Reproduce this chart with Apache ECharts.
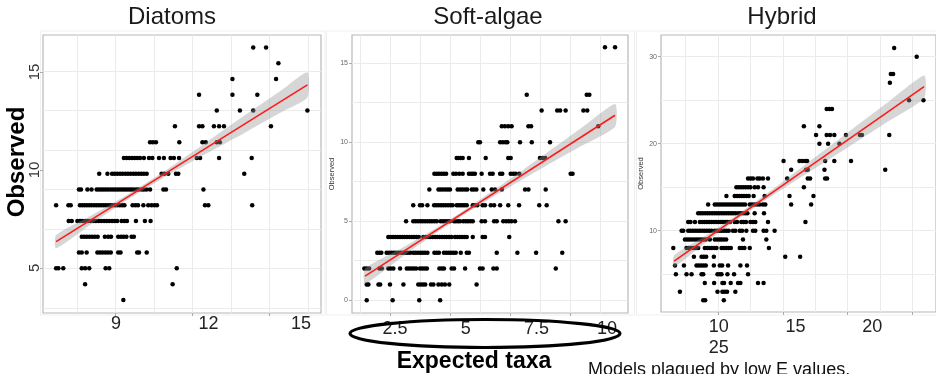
<!DOCTYPE html>
<html>
<head>
<meta charset="utf-8">
<script src="https://cdn.jsdelivr.net/npm/echarts@6/dist/echarts.min.js"></script>
<style>
  html, body { margin: 0; padding: 0; background: #fff; }
  #chart { width: 936px; height: 374px; }
</style>
</head>
<body>
<div id="chart"></div>
<script>
// Observed vs expected taxa for three assemblage models.
// Each row: [observed count, [expected values of the sites at that count]]

const diatomRows = [
  [19, [14.36, 14.86]],
  [18, [15.34]],
  [17, [13.55, 15.25]],
  [16, [12.25, 13.55, 14.52]],
  [15, [12.94, 13.84, 14.36, 16.47]],
  [14, [11.31, 12.25, 12.38, 12.83, 13.03, 13.22, 15.05]],
  [13, [10.34, 10.45, 10.57, 11.48, 12.38, 12.51, 12.94, 13.06]],
  [12, [9.32, 9.43, 9.53, 9.64, 9.74, 9.84, 9.95, 10.10, 10.30, 10.43, 10.69, 10.88, 11.14, 11.27, 11.47, 12.16, 12.29, 13.03, 14.30]],
  [11, [8.36, 8.68, 8.86, 8.96, 9.06, 9.17, 9.27, 9.38, 9.48, 9.58, 9.69, 9.79, 9.90, 10.0, 10.10, 10.21, 10.79, 10.90, 11.05, 11.35, 11.44, 14.01]],
  [10, [7.57, 7.65, 7.90, 8.06, 8.26, 8.35, 8.44, 8.53, 8.62, 8.71, 8.81, 8.90, 8.99, 9.08, 9.17, 9.26, 9.35, 9.44, 9.53, 9.62, 9.71, 9.81, 9.90, 10.01, 10.1, 10.2, 10.34, 10.86, 10.96, 12.42]],
  [9, [6.68, 7.16, 7.25, 7.61, 7.70, 7.79, 7.88, 7.97, 8.06, 8.16, 8.25, 8.34, 8.43, 8.52, 8.61, 8.70, 8.79, 8.88, 8.97, 9.06, 9.16, 9.25, 9.34, 9.66, 9.77, 9.87, 10.08, 10.27, 10.40, 10.51, 10.61, 12.48, 12.61, 14.32]],
  [8, [7.17, 7.29, 7.51, 7.61, 7.71, 7.82, 7.92, 8.03, 8.13, 8.23, 8.34, 8.44, 8.55, 8.65, 8.75, 8.86, 8.96, 9.06, 9.23, 9.34, 9.44, 9.79, 10.14, 10.36]],
  [7, [7.68, 7.78, 7.88, 7.99, 8.09, 8.19, 8.30, 8.58, 8.71, 8.82, 9.10, 9.21, 9.31, 9.42, 9.62, 9.71]],
  [6, [7.57, 7.68, 7.87, 8.29, 8.39, 8.49, 8.60, 8.70, 8.81, 9.10, 9.19, 9.84, 9.91, 10.21]],
  [5, [6.68, 6.77, 6.96, 7.68, 7.81, 7.97, 8.61, 8.75, 11.38]],
  [4, [7.81, 11.22]],
  [3, [9.30]]
];

const softRows = [
  [16, [11.43, 11.85]],
  [13, [8.17, 10.67, 10.78]],
  [12, [8.79, 9.44, 9.56, 9.79, 10.53, 10.69]],
  [11, [7.13, 7.26, 7.40, 7.54, 8.24, 8.35, 11.15]],
  [10, [6.15, 6.22, 7.06, 7.17, 7.28, 7.36, 7.89, 8.38, 9.14]],
  [9, [5.25, 5.33, 5.42, 5.50, 5.76, 6.46, 7.40, 7.50, 8.72, 8.83, 8.94]],
  [8, [4.32, 4.42, 4.51, 4.61, 4.71, 4.81, 5.11, 5.22, 5.36, 5.50, 5.76, 5.85, 5.93, 6.01, 6.29, 6.64, 6.75, 7.06, 7.15, 7.50, 7.61, 7.71, 7.86, 10.0, 10.08]],
  [7, [4.11, 4.49, 4.58, 4.68, 4.78, 4.88, 4.97, 5.29, 5.39, 5.49, 5.60, 5.69, 5.88, 5.97, 6.07, 6.36, 6.71, 6.85, 7.13, 8.10, 8.24, 8.96]],
  [6, [3.44, 3.72, 3.81, 4.03, 4.31, 4.40, 4.50, 4.60, 4.69, 4.79, 4.89, 4.99, 5.08, 5.25, 5.33, 5.42, 5.50, 5.58, 5.67, 5.92, 6.01, 6.11, 6.33, 6.43, 6.67, 6.81, 7.06, 7.40, 7.85, 8.69, 9.0]],
  [5, [3.14, 3.44, 3.54, 3.64, 3.74, 3.83, 3.93, 4.03, 4.13, 4.22, 4.32, 4.42, 4.58, 4.68, 4.78, 4.88, 4.97, 5.14, 5.22, 5.31, 5.39, 5.53, 5.63, 5.72, 5.82, 5.92, 6.29, 6.43, 6.81, 6.92, 7.19, 7.31, 7.42, 7.53, 7.68, 9.49, 9.79]],
  [4, [2.40, 2.50, 2.60, 2.69, 2.79, 2.89, 2.99, 3.08, 3.18, 3.28, 3.38, 3.47, 3.57, 3.67, 3.86, 3.96, 4.06, 4.15, 4.25, 4.35, 4.44, 4.54, 4.64, 4.74, 4.83, 4.93, 5.03, 5.18, 5.28, 5.38, 5.47, 5.57, 5.67, 5.92, 6.33, 6.43, 7.44]],
  [3, [1.94, 2.03, 2.11, 2.33, 2.43, 2.53, 2.63, 2.72, 2.82, 2.92, 3.01, 3.11, 3.21, 3.31, 3.44, 3.54, 3.64, 3.74, 3.83, 3.93, 4.03, 4.32, 4.42, 4.51, 4.72, 4.82, 4.92, 5.01, 5.11, 5.21, 5.42, 5.67, 5.76, 6.92, 7.78, 8.56, 9.65]],
  [2, [1.40, 1.50, 1.60, 2.03, 2.13, 2.40, 2.50, 2.61, 2.89, 3.17, 3.26, 3.36, 3.46, 3.56, 3.72, 3.82, 3.92, 4.01, 4.53, 4.63, 4.72, 5.04, 5.14, 5.60, 6.22, 6.33, 6.78, 6.92, 9.38]],
  [1, [1.50, 1.57, 1.99, 2.06, 2.47, 3.03, 3.65, 3.75, 3.85, 3.94, 4.18, 4.28, 4.49, 4.63, 4.76, 4.94, 6.08]],
  [0, [1.50, 2.58, 3.69, 4.56]]
];

const hybridRows = [
  [31, [23.59]],
  [30, [25.33]],
  [28, [23.33, 23.51]],
  [27, [23.26]],
  [25, [24.74, 25.85]],
  [24, [18.38, 18.59, 18.79]],
  [22, [16.62, 17.82]],
  [21, [17.56, 18.38, 18.64, 18.97, 19.87, 20.95, 21.10, 23.21]],
  [20, [17.82, 18.49, 19.36]],
  [18, [15.05, 16.28, 16.49, 16.72, 16.87, 18.26, 18.97, 20.26]],
  [17, [15.64, 16.79, 16.92, 18.21, 22.90]],
  [16, [12.31, 12.51, 12.69, 13.03, 13.21, 13.46, 13.85, 15.33, 16.92, 17.10, 18.26, 18.41]],
  [15, [11.41, 11.59, 11.77, 11.95, 12.13, 12.31, 12.49, 12.82, 13.08, 13.51, 16.62]],
  [14, [10.64, 11.28, 11.46, 11.64, 11.82, 12.0, 12.18, 12.36, 12.74, 13.59, 15.51, 17.36]],
  [13, [9.23, 9.74, 9.92, 10.10, 10.28, 10.46, 10.64, 10.82, 11.0, 11.18, 11.36, 11.54, 11.72, 11.90, 12.08, 12.44, 12.62, 12.82, 13.0, 13.21, 13.46, 13.64, 15.64, 17.18]],
  [12, [8.46, 8.64, 8.82, 9.0, 9.18, 9.36, 9.54, 9.72, 9.90, 10.08, 10.26, 10.44, 10.62, 10.80, 10.98, 11.15, 11.33, 11.54, 11.72, 11.90, 12.08, 12.26, 12.82, 13.54]],
  [11, [7.69, 7.87, 8.21, 8.59, 8.77, 8.95, 9.13, 9.31, 9.49, 9.67, 9.85, 10.03, 10.21, 10.38, 10.56, 10.74, 10.92, 11.28, 11.46, 11.79, 11.97, 12.15, 12.49, 12.69, 12.87, 13.85, 16.74]],
  [10, [7.18, 7.31, 7.69, 7.87, 8.05, 8.23, 8.41, 8.59, 8.77, 8.95, 9.13, 9.31, 9.49, 9.74, 9.92, 10.10, 10.28, 10.46, 10.64, 10.82, 11.15, 11.33, 11.67, 11.85, 12.18, 12.69, 12.87, 13.51, 13.72, 14.36]],
  [9, [7.44, 7.62, 7.79, 7.97, 8.15, 8.33, 8.51, 8.69, 8.87, 9.05, 9.36, 9.74, 9.92, 10.10, 10.26, 10.44, 10.62, 11.92, 13.72]],
  [8, [6.54, 7.56, 7.74, 7.92, 8.10, 8.28, 8.46, 8.97, 9.15, 9.33, 9.51, 9.69, 9.87, 10.26, 10.44, 10.62, 10.80, 10.98, 11.67, 11.85, 12.03, 12.44, 13.92]],
  [7, [8.13, 8.72, 8.90, 9.08, 9.67, 15.18, 16.33]],
  [6, [6.67, 7.36, 8.33, 8.51, 8.69, 8.87, 9.05, 9.67, 10.13, 10.31, 10.77, 11.72, 12.23]],
  [5, [6.74, 7.56, 7.95, 8.72, 8.85, 9.95, 10.13, 10.26, 10.72, 11.23, 12.31]],
  [4, [8.97, 9.69, 10.33, 10.46, 10.97, 11.54, 11.72, 13.08, 13.51]],
  [3, [7.05, 9.95, 10.33, 10.51, 10.69, 11.33]],
  [2, [8.85, 9.00, 10.44]]
];

// linear fit ends and confidence band
const diatomFitX = [6.68, 16.47];
const diatomFitY = [6.69, 16.63];
const diatomBandX = [6.68, 8, 9.5, 11, 12.5, 14, 15.5, 16.47];
const diatomBandLow = [6.27, 7.75, 9.38, 10.87, 12.25, 13.57, 14.94, 15.83];
const diatomBandHigh = [7.11, 8.31, 9.72, 11.27, 12.95, 14.67, 16.34, 17.43];

const softFitX = [1.43, 11.85];
const softFitY = [1.52, 11.7];
const softBandX = [1.43, 3, 4.5, 6, 7.5, 9, 10.5, 11.85];
const softBandLow = [1.05, 2.77, 4.37, 5.84, 7.2, 8.52, 9.8, 10.98];
const softBandHigh = [1.99, 3.33, 4.67, 6.14, 7.7, 9.32, 10.96, 12.42];

const hybridFitX = [6.6, 25.9];
const hybridFitY = [6.5, 26.55];
const hybridBandX = [6.6, 9, 11.5, 14, 17, 20, 23, 25.9];
const hybridBandLow = [5.85, 8.59, 11.31, 13.84, 16.71, 19.57, 22.44, 25.25];
const hybridBandHigh = [7.15, 9.39, 11.87, 14.54, 17.91, 21.27, 24.64, 27.85];

// gridlines, ticks and tick labels
const diatomGridX = [7.5, 9, 10.5, 12, 13.5, 15, 16.5];
const diatomMajorX = [9, 12, 15];
const diatomLabelX = [9, 12, 15];
const diatomLabelXText = ['9', '12', '15'];
const diatomGridY = [2.5, 5, 7.5, 10, 12.5, 15, 17.5];
const diatomLabelY = [5, 10, 15];
const diatomLabelYText = ['5', '10', '15'];

const softGridX = [1.25, 2.5, 3.75, 5, 6.25, 7.5, 8.75, 10, 11.25];
const softMajorX = [2.5, 5, 7.5, 10];
const softLabelX = [2.5, 5, 7.5, 10];
const softLabelXText = ['2.5', '5', '7.5', '10'];
const softGridY = [0, 2.5, 5, 7.5, 10, 12.5, 15];
const softLabelY = [0, 5, 10, 15];
const softLabelYText = ['0', '5', '10', '15'];

const hybridGridX = [7.5, 10, 12.5, 15, 17.5, 20, 22.5, 25];
const hybridMajorX = [10, 15, 20, 25];
const hybridLabelX = [10, 15, 20];
const hybridLabelXText = ['10\n25', '15', '20'];
const hybridGridY = [5, 10, 15, 20, 25, 30];
const hybridLabelY = [10, 20, 30];
const hybridLabelYText = ['10', '20', '30'];

const panelTitles = ['Diatoms', 'Soft-algae', 'Hybrid'];

const FONT = 'Liberation Sans, Arial, sans-serif';

// layout of the three panels
const panels = [
  {
    rows: diatomRows, fitX: diatomFitX, fitY: diatomFitY,
    bandX: diatomBandX, bandLow: diatomBandLow, bandHigh: diatomBandHigh,
    gridX: diatomGridX, majorX: diatomMajorX, labelX: diatomLabelX, labelXText: diatomLabelXText,
    gridY: diatomGridY, labelY: diatomLabelY, labelYText: diatomLabelYText,
    rect: { left: 43, top: 35, width: 278, height: 278 },
    xRange: [6.17, 17.0], yRange: [2.17, 19.79],
    xLabRange: [6.63, 15.65], yLabRange: [2.70, 16.89],
    xLabMargin: 1, bigY: true
  },
  {
    rows: softRows, fitX: softFitX, fitY: softFitY,
    bandX: softBandX, bandLow: softBandLow, bandHigh: softBandHigh,
    gridX: softGridX, majorX: softMajorX, labelX: softLabelX, labelXText: softLabelXText,
    gridY: softGridY, labelY: softLabelY, labelYText: softLabelYText,
    rect: { left: 352, top: 35, width: 276, height: 278 },
    xRange: [0.887, 12.39], yRange: [-0.81, 16.78],
    xLabRange: [0.979, 10.74], yLabRange: [-0.81, 16.78],
    xLabMargin: 6, bigY: false
  },
  {
    rows: hybridRows, fitX: hybridFitX, fitY: hybridFitY,
    bandX: hybridBandX, bandLow: hybridBandLow, bandHigh: hybridBandHigh,
    gridX: hybridGridX, majorX: hybridMajorX, labelX: hybridLabelX, labelXText: hybridLabelXText,
    gridY: hybridGridY, labelY: hybridLabelY, labelYText: hybridLabelYText,
    rect: { left: 661, top: 35, width: 276, height: 277 },
    xRange: [5.59, 26.82], yRange: [0.66, 32.49],
    xLabRange: [6.23, 24.16], yLabRange: [0.66, 32.49],
    xLabMargin: 4.5, bigY: false
  }
];

const grids = [];
const xAxes = [];
const yAxes = [];
const series = [];

panels.forEach((p, i) => {
  grids.push(Object.assign({ show: true, borderColor: '#b8b8b8', borderWidth: 1.2, backgroundColor: '#fff' }, p.rect));

  const hidden = { axisLine: { show: false, onZero: false }, axisLabel: { show: false }, axisTick: { show: false }, splitLine: { show: false } };

  // x: gridlines, tick marks, tick labels
  xAxes.push(Object.assign({}, hidden, {
    gridIndex: i, type: 'value', position: 'bottom', min: p.xRange[0], max: p.xRange[1],
    axisTick: { show: false, customValues: p.gridX },
    splitLine: { show: true, lineStyle: { color: '#ebebeb', width: 1 } }
  }));
  xAxes.push(Object.assign({}, hidden, {
    gridIndex: i, type: 'value', position: 'bottom', min: p.xRange[0], max: p.xRange[1],
    axisTick: { show: true, customValues: p.majorX, length: 3, lineStyle: { color: '#aaa' } }
  }));
  xAxes.push(Object.assign({}, hidden, {
    gridIndex: i, type: 'value', position: 'bottom', min: p.xLabRange[0], max: p.xLabRange[1],
    axisLabel: {
      show: true, customValues: p.labelX, margin: p.xLabMargin,
      fontFamily: FONT, fontSize: 18, lineHeight: 21, color: '#222',
      formatter: v => p.labelXText[p.labelX.indexOf(v)]
    }
  }));

  // y: gridlines, ticks + labels
  yAxes.push(Object.assign({}, hidden, {
    gridIndex: i, type: 'value', position: 'left', min: p.yRange[0], max: p.yRange[1],
    axisTick: { show: false, customValues: p.gridY },
    splitLine: { show: true, lineStyle: { color: '#ebebeb', width: 1 } }
  }));
  const yLab = Object.assign({}, hidden, {
    gridIndex: i, type: 'value', position: 'left', min: p.yLabRange[0], max: p.yLabRange[1],
    axisTick: { show: true, customValues: p.labelY, length: 3, lineStyle: { color: '#aaa' } },
    axisLabel: p.bigY ? {
      show: true, customValues: p.labelY, rotate: 90, margin: 1,
      fontFamily: FONT, fontSize: 15, color: '#333',
      formatter: v => p.labelYText[p.labelY.indexOf(v)]
    } : {
      show: true, customValues: p.labelY, margin: 4,
      fontFamily: FONT, fontSize: 7, color: '#666',
      formatter: v => p.labelYText[p.labelY.indexOf(v)]
    }
  });
  if (!p.bigY) {
    yLab.name = 'Observed';
    yLab.nameLocation = 'middle';
    yLab.nameGap = 14;
    yLab.nameTextStyle = { fontFamily: FONT, fontSize: 7.5, color: '#333' };
  }
  yAxes.push(yLab);

  const xi = i * 3;
  const yi = i * 2;
  const points = [];
  p.rows.forEach(([obs, exps]) => exps.forEach(e => points.push([e, obs])));

  series.push({
    type: 'scatter', xAxisIndex: xi, yAxisIndex: yi, data: points,
    symbolSize: 4.5, itemStyle: { color: '#000', opacity: 1 }, silent: true, z: 2
  });
  // confidence band as one polygon through the axis scales
  series.push({
    type: 'custom', xAxisIndex: xi, yAxisIndex: yi, silent: true, z: 3,
    data: [[p.bandX[0], p.bandLow[0]]],
    renderItem: (params, api) => {
      const pts = [];
      p.bandX.forEach((x, k) => pts.push(api.coord([x, p.bandHigh[k]])));
      for (let k = p.bandX.length - 1; k >= 0; k--) pts.push(api.coord([p.bandX[k], p.bandLow[k]]));
      return { type: 'polygon', shape: { points: pts, smooth: 0.2 }, style: { fill: 'rgba(153,153,153,0.4)' } };
    }
  });
  series.push({
    type: 'line', xAxisIndex: xi, yAxisIndex: yi,
    data: p.fitX.map((x, k) => [x, p.fitY[k]]),
    symbol: 'none', lineStyle: { color: '#ff1a1a', width: 1.6 }, silent: true, z: 4
  });
});

const titleX = [172, 488, 782];
const graphic = [];

// faint frames of the pasted panels
[[40.5, 31, 284.5, 284], [326.5, 31, 308, 284], [636.5, 31, 300, 284]].forEach(r => {
  graphic.push({ type: 'rect', silent: true, z: 0,
    shape: { x: r[0], y: r[1], width: r[2], height: r[3] },
    style: { fill: 'none', stroke: '#efefef', lineWidth: 1 } });
});

panelTitles.forEach((t, i) => {
  graphic.push({ type: 'text', x: titleX[i], y: 17, silent: true, z: 50,
    style: { text: t, font: '24px ' + FONT, fill: '#1a1a1a',
      textAlign: 'center', textVerticalAlign: 'middle', align: 'center', verticalAlign: 'middle' } });
});

graphic.push({ type: 'text', x: 17, y: 162, rotation: Math.PI / 2, silent: true, z: 50,
  style: { text: 'Observed', font: 'bold 24px ' + FONT, fill: '#000',
    textAlign: 'center', textVerticalAlign: 'middle', align: 'center', verticalAlign: 'middle' } });

graphic.push({ type: 'text', x: 474, y: 362, silent: true, z: 50,
  style: { text: 'Expected taxa', font: 'bold 23px ' + FONT, fill: '#000',
    textAlign: 'center', textVerticalAlign: 'middle', align: 'center', verticalAlign: 'middle' } });

graphic.push({ type: 'text', x: 588, y: 361, silent: true, z: 50,
  style: { text: 'Models plagued by low E values.', font: '18px ' + FONT, fill: '#111',
    textAlign: 'left', textVerticalAlign: 'top', align: 'left', verticalAlign: 'top' } });

graphic.push({ type: 'ellipse', silent: true, z: 60,
  shape: { cx: 485, cy: 333.5, rx: 135, ry: 14 },
  style: { fill: 'none', stroke: '#000', lineWidth: 3.2 } });

const chart = echarts.init(document.getElementById('chart'));
chart.setOption({
  animation: false,
  grid: grids,
  xAxis: xAxes,
  yAxis: yAxes,
  series: series,
  graphic: { elements: graphic }
});
</script>
</body>
</html>
